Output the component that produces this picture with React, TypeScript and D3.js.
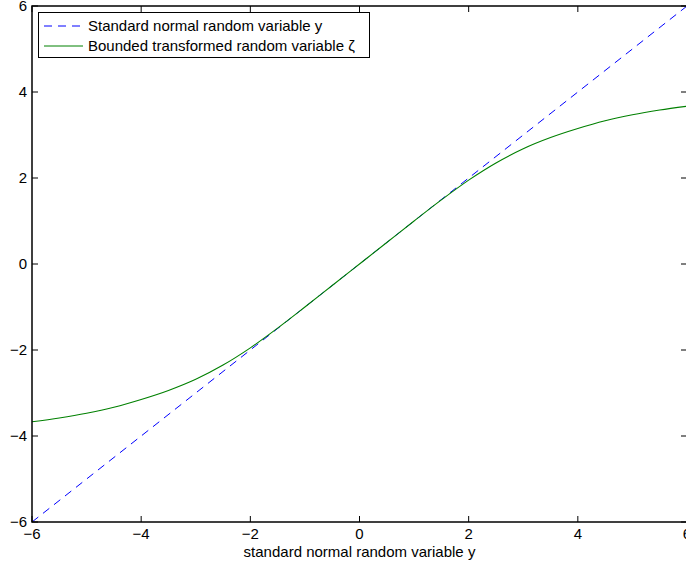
import React from "react";
import * as d3 from "d3";

const xTicks = [-6, -4, -2, 0, 2, 4, 6];
const yTicks = [-6, -4, -2, 0, 2, 4, 6];
const tickLabel = (v: number) => (v < 0 ? "\u2212" + Math.abs(v) : String(v));

// Standard normal random variable y (identity)
const identityX = [-6, -3, 0, 3, 6];
const identityY = [-6, -3, 0, 3, 6];

// Bounded transformed random variable ζ
const zetaX = [-6, -5.5, -5, -4.5, -4, -3.5, -3, -2.5, -2, -1.5, -1, -0.5, 0, 0.5, 1, 1.5, 2, 2.5, 3, 3.5, 4, 4.5, 5, 5.5, 6];
const zetaY = [-3.67, -3.58, -3.47, -3.33, -3.15, -2.94, -2.68, -2.35, -1.95, -1.49, -1.0, -0.5, 0, 0.5, 1.0, 1.49, 1.95, 2.35, 2.68, 2.94, 3.15, 3.33, 3.47, 3.58, 3.67];

const legendLabels = ["Standard normal random variable y", "Bounded transformed random variable \u03b6"];

const W = 686;
const H = 566;
const L = 32, R = 687, T = 6, B = 522;
const FONT = "'Liberation Sans', Arial, Helvetica, sans-serif";

export default function App() {
  const x = d3.scaleLinear().domain([-6, 6]).range([L, R]);
  const y = d3.scaleLinear().domain([-6, 6]).range([B, T]);
  const line = d3.line<[number, number]>().x(d => x(d[0])).y(d => y(d[1]));
  const curve = d3.line<[number, number]>().x(d => x(d[0])).y(d => y(d[1])).curve(d3.curveMonotoneX);
  const idPts = identityX.map((v, i) => [v, identityY[i]] as [number, number]);
  const zPts = zetaX.map((v, i) => [v, zetaY[i]] as [number, number]);
  const tickLen = 6;

  return (
    <svg width={W} height={H} style={{ position: "absolute", left: 0, top: 0, background: "#fff" }} fontFamily={FONT} fontSize={15}>
      <rect x={0} y={0} width={W} height={H} fill="#fff" />
      <clipPath id="plot"><rect x={L} y={T} width={R - L} height={B - T} /></clipPath>
      <g clipPath="url(#plot)">
        <path d={line(idPts) || ""} fill="none" stroke="#0000ff" strokeWidth={1} strokeDasharray="8,6" />
        <path d={curve(zPts) || ""} fill="none" stroke="#008000" strokeWidth={1.1} />
      </g>
      {/* box */}
      <rect x={L} y={T} width={R - L} height={B - T} fill="none" stroke="#000" strokeWidth={1.5} />
      {/* x ticks */}
      {xTicks.map(t => (
        <g key={"x" + t}>
          <line x1={x(t)} x2={x(t)} y1={B} y2={B - tickLen} stroke="#000" />
          <line x1={x(t)} x2={x(t)} y1={T} y2={T + tickLen} stroke="#000" />
          <text x={x(t)} y={B + 17} textAnchor="middle" fill="#000">{tickLabel(t)}</text>
        </g>
      ))}
      {yTicks.map(t => (
        <g key={"y" + t}>
          <line x1={L} x2={L + tickLen} y1={y(t)} y2={y(t)} stroke="#000" />
          <line x1={R} x2={R - tickLen} y1={y(t)} y2={y(t)} stroke="#000" />
          <text x={L - 5} y={y(t) + 5} textAnchor="end" fill="#000">{tickLabel(t)}</text>
        </g>
      ))}
      <text x={x(0)} y={557} textAnchor="middle" fill="#000">standard normal random variable y</text>
      {/* legend */}
      <rect x={38.5} y={12.5} width={331} height={45} fill="#fff" stroke="#000" strokeWidth={1} />
      <line x1={44} x2={83} y1={26} y2={26} stroke="#0000ff" strokeDasharray="8,6" />
      <line x1={44} x2={83} y1={46} y2={46} stroke="#008000" />
      <text x={88} y={31} fill="#000">{legendLabels[0]}</text>
      <text x={88} y={51} fill="#000">{legendLabels[1]}</text>
    </svg>
  );
}
